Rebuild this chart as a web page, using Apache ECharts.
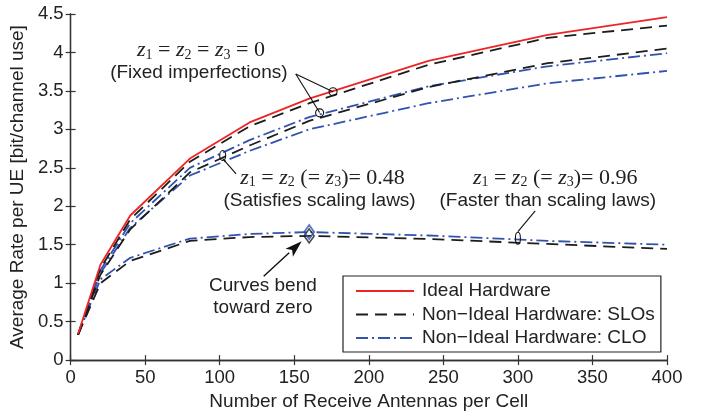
<!DOCTYPE html>
<html>
<head>
<meta charset="utf-8">
<script src="https://cdn.jsdelivr.net/npm/echarts@6/dist/echarts.min.js"></script>
<style>html,body{margin:0;padding:0;background:#fff}#c{width:712px;height:416px}</style>
</head>
<body>
<div id="c"></div>
<script>
// ---- data ----
var antennas = [5, 20, 40, 80, 120, 160, 240, 320, 400];
var idealHW = [0.34, 1.24, 1.88, 2.62, 3.09, 3.40, 3.89, 4.23, 4.46];
var sloFixed = [0.33, 1.19, 1.83, 2.58, 3.04, 3.34, 3.84, 4.19, 4.35];
var cloFixed = [0.33, 1.17, 1.78, 2.50, 2.86, 3.16, 3.56, 3.82, 3.99];
var sloScaling = [0.33, 1.11, 1.70, 2.44, 2.79, 3.11, 3.55, 3.86, 4.05];
var cloScaling = [0.33, 1.13, 1.72, 2.40, 2.72, 3.00, 3.34, 3.60, 3.76];
var sloFast = [0.33, 1.00, 1.29, 1.55, 1.60, 1.615, 1.575, 1.51, 1.445];
var cloFast = [0.33, 1.05, 1.33, 1.58, 1.64, 1.665, 1.62, 1.55, 1.50];
var peakIndex = 5; // x = 160
var seriesNames = ['Ideal Hardware', 'Non\u2212Ideal Hardware: SLOs', 'Non\u2212Ideal Hardware: CLO'];
var xTitle = 'Number of Receive Antennas per Cell';
var yTitle = 'Average Rate per UE [bit/channel use]';

var RED = '#ee2424', BLACK = '#1c1c1c', BLUE = '#3352ad';
var SANS = '"Liberation Sans", Arial, sans-serif';
var SERIF = '"Liberation Serif", "DejaVu Serif", serif';
var TXT = '#222';
var FS = 19;

function pairs(ys) { return antennas.map(function (x, i) { return [x, ys[i]]; }); }

var dashed = [12, 7];
var dashDot = [12, 4, 2, 4];

function lineSeries(name, ys, color, type, z) {
  return {
    name: name, type: 'line', data: pairs(ys), symbol: 'none', z: z,
    lineStyle: { color: color, width: 1.8, type: type },
    itemStyle: { color: color }, animation: false
  };
}

var chart = echarts.init(document.getElementById('c'), null, { renderer: 'canvas' });

var axisCommon = {
  axisLine: { show: true, lineStyle: { color: '#333', width: 1.3 } },
  axisTick: { show: true, inside: true, length: 5, lineStyle: { color: '#333', width: 1.2 } },
  splitLine: { show: false }
};

var option = {
  backgroundColor: '#fff',
  animation: false,
  grid: { left: 69.5, right: 45, top: 14, bottom: 54.3 },
  xAxis: [
    Object.assign({
      type: 'value', min: 0, max: 400, interval: 50, position: 'bottom',
      name: xTitle, nameLocation: 'middle', nameGap: 29,
      nameTextStyle: { fontFamily: SANS, fontSize: FS, color: TXT },
      axisLabel: { fontFamily: SANS, fontSize: 18.5, color: TXT, margin: 8 }
    }, axisCommon),
    Object.assign({
      type: 'value', min: 0, max: 400, interval: 50, position: 'top',
      axisLabel: { show: false }
    }, axisCommon)
  ],
  yAxis: [
    Object.assign({
      type: 'value', min: 0, max: 4.5, interval: 0.5, position: 'left',
      name: yTitle, nameLocation: 'middle', nameGap: 39,
      nameTextStyle: { fontFamily: SANS, fontSize: FS, color: TXT },
      axisLabel: { fontFamily: SANS, fontSize: 18.5, color: TXT, margin: 7 }
    }, axisCommon),
    Object.assign({
      type: 'value', min: 0, max: 4.5, interval: 0.5, position: 'right',
      axisLabel: { show: false }
    }, axisCommon)
  ],
  legend: {
    data: seriesNames,
    orient: 'vertical', left: 343, top: 276,
    backgroundColor: '#fff', borderColor: '#222', borderWidth: 1.2,
    padding: [5, 6, 4, 12], itemGap: 3.5, itemWidth: 58, itemHeight: 14,
    itemStyle: { opacity: 0 },
    textStyle: { fontFamily: SANS, fontSize: FS, color: TXT, lineHeight: 20, padding: [0, 0, 0, 3] },
    z: 20
  },
  series: [
    lineSeries(seriesNames[2], cloFixed, BLUE, dashDot, 2),
    lineSeries(seriesNames[2], cloScaling, BLUE, dashDot, 2),
    lineSeries(seriesNames[2], cloFast, BLUE, dashDot, 2),
    lineSeries(seriesNames[1], sloFixed, BLACK, dashed, 3),
    lineSeries(seriesNames[1], sloScaling, BLACK, dashed, 3),
    lineSeries(seriesNames[1], sloFast, BLACK, dashed, 3),
    lineSeries(seriesNames[0], idealHW, RED, 'solid', 4),
    {
      name: 'peakSLO', type: 'scatter', symbol: 'diamond', symbolSize: [10, 14], z: 5,
      data: [[antennas[peakIndex], sloFast[peakIndex]]],
      itemStyle: { color: 'rgba(255,255,255,0)', borderColor: BLACK, borderWidth: 1.6 }
    },
    {
      name: 'peakCLO', type: 'scatter', symbol: 'diamond', symbolSize: [10, 14], z: 6,
      data: [[antennas[peakIndex], cloFast[peakIndex]]],
      itemStyle: { color: 'rgba(255,255,255,0)', borderColor: BLUE, borderWidth: 1.8 }
    }
  ]
};
chart.setOption(option);

// ---- annotations (data coordinates) ----
function P(x, y) { return chart.convertToPixel({ xAxisIndex: 0, yAxisIndex: 0 }, [x, y]); }

var g = [];
function text(str, x, y, font, rich) {
  var p = P(x, y);
  var st = { text: str, x: 0, y: 0, fill: TXT, font: font, align: 'center', verticalAlign: 'middle' };
  if (rich) st.rich = rich;
  g.push({ type: 'text', x: p[0], y: p[1], style: st, z: 30 });
}
function seg(a, b) {
  var p = P(a[0], a[1]), q = P(b[0], b[1]);
  g.push({ type: 'line', shape: { x1: p[0], y1: p[1], x2: q[0], y2: q[1] }, style: { stroke: '#111', lineWidth: 1.1 }, z: 30 });
}
function ring(c, r) {
  var p = P(c[0], c[1]);
  g.push({ type: 'circle', shape: { cx: p[0], cy: p[1], r: r }, style: { fill: 'none', stroke: '#111', lineWidth: 1.1 }, z: 30 });
}
function oval(c, rx, ry) {
  var p = P(c[0], c[1]);
  g.push({ type: 'ellipse', shape: { cx: p[0], cy: p[1], rx: rx, ry: ry }, style: { fill: 'none', stroke: '#111', lineWidth: 1.1 }, z: 30 });
}
function arrow(a, b) {
  var p = P(a[0], a[1]), q = P(b[0], b[1]);
  var dx = q[0] - p[0], dy = q[1] - p[1], L = Math.sqrt(dx * dx + dy * dy);
  var ux = dx / L, uy = dy / L, hl = 17, hw = 5.5;
  var bx = q[0] - ux * hl, by = q[1] - uy * hl;
  g.push({ type: 'line', shape: { x1: p[0], y1: p[1], x2: bx, y2: by }, style: { stroke: '#111', lineWidth: 1.4 }, z: 30 });
  g.push({ type: 'polygon', shape: { points: [[q[0], q[1]], [bx - uy * hw, by + ux * hw], [bx + ux * 4, by + uy * 4], [bx + uy * hw, by - ux * hw]] }, style: { fill: '#111' }, z: 30 });
}

var mathRich = {
  m: { fontFamily: SERIF, fontStyle: 'italic', fontSize: 22, fill: TXT, color: TXT },
  n: { fontFamily: SERIF, fontSize: 22, fill: TXT, color: TXT },
  s: { fontFamily: SERIF, fontSize: 14, fill: TXT, color: TXT, padding: [10, 0, 0, 0] }
};
var textFont = FS + 'px ' + SANS;

text('{m|z}{s|1}{n| = }{m|z}{s|2}{n| = }{m|z}{s|3}{n| = 0}', 87.4, 4.03, '22px ' + SERIF, mathRich);
text('(Fixed imperfections)', 86, 3.73, textFont);
seg([151, 3.72], [176, 3.49]);
seg([151, 3.72], [167, 3.22]);
ring([176, 3.49], 4);
ring([167, 3.215], 4);

text('{m|z}{s|1}{n| = }{m|z}{s|2}{n| (= }{m|z}{s|3}{n|)= 0.48}', 169, 2.37, '22px ' + SERIF, mathRich);
text('(Satisfies scaling laws)', 167, 2.07, textFont);
seg([111, 2.42], [102, 2.62]);
oval([102, 2.66], 3, 5);

text('{m|z}{s|1}{n| = }{m|z}{s|2}{n| (= }{m|z}{s|3}{n|)= 0.96}', 325, 2.37, '22px ' + SERIF, mathRich);
text('(Faster than scaling laws)', 320, 2.07, textFont);
seg([311.6, 1.94], [300, 1.67]);
oval([300, 1.585], 2.5, 6);

text('Curves bend', 129, 0.97, textFont);
text('toward zero', 129, 0.685, textFont);
arrow([129.5, 1.09], [155, 1.545]);

chart.setOption({ graphic: g });
</script>
</body>
</html>
